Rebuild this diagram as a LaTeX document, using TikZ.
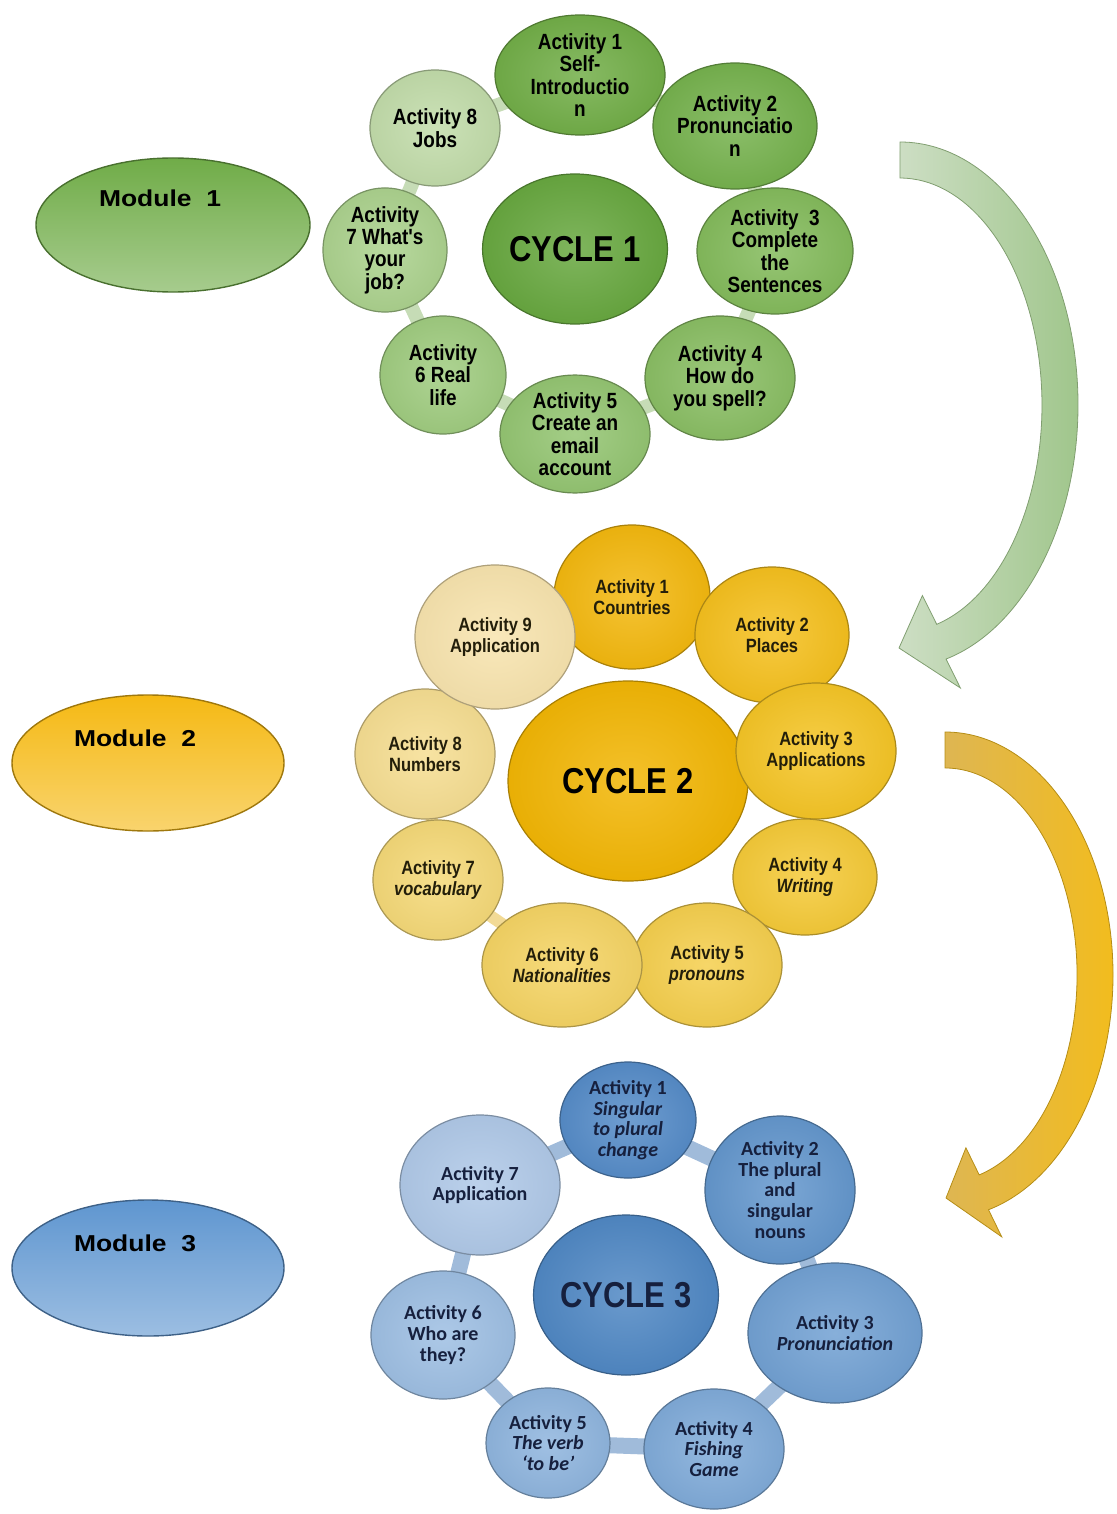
\documentclass[tikz,border=0pt]{standalone}
\usepackage{fontspec}
\setmainfont{Liberation Sans}
\newfontfamily\narrowf[FakeStretch=0.86]{Liberation Sans}
\newfontfamily\widef[FakeStretch=1.15]{Liberation Sans}
\newfontfamily\calf{Carlito}
\usetikzlibrary{shapes.geometric,backgrounds}
% greens
\definecolor{gC}{RGB}{104,168,64}
\definecolor{g1}{RGB}{114,174,72}
\definecolor{g2}{RGB}{118,178,78}
\definecolor{g3}{RGB}{132,187,92}
\definecolor{g4}{RGB}{138,190,100}
\definecolor{g5}{RGB}{148,197,114}
\definecolor{g6}{RGB}{160,204,128}
\definecolor{g7}{RGB}{172,210,142}
\definecolor{g8}{RGB}{194,220,170}
\definecolor{gring}{RGB}{198,220,182}
\definecolor{mod1}{RGB}{112,172,72}
% yellows
\definecolor{yC}{RGB}{242,182,5}
\definecolor{y1}{RGB}{243,184,15}
\definecolor{y2}{RGB}{245,192,30}
\definecolor{y3}{RGB}{245,197,38}
\definecolor{y4}{RGB}{245,202,56}
\definecolor{y5}{RGB}{245,207,78}
\definecolor{y6}{RGB}{245,212,100}
\definecolor{y7}{RGB}{245,217,120}
\definecolor{y8}{RGB}{246,222,146}
\definecolor{y9}{RGB}{248,228,174}
\definecolor{yring}{RGB}{242,218,150}
\definecolor{mod2}{RGB}{245,185,20}
% blues
\definecolor{bC}{RGB}{80,136,196}
\definecolor{b1}{RGB}{86,140,200}
\definecolor{b2}{RGB}{100,151,205}
\definecolor{b3}{RGB}{114,161,211}
\definecolor{b4}{RGB}{128,171,217}
\definecolor{b5}{RGB}{143,181,222}
\definecolor{b6}{RGB}{158,191,227}
\definecolor{b7}{RGB}{176,201,232}
\definecolor{bring}{RGB}{160,187,218}
\definecolor{mod3}{RGB}{95,150,208}
\definecolor{navy}{RGB}{22,32,62}
\definecolor{dk}{RGB}{35,30,10}
% arrows
\definecolor{gaL}{RGB}{205,222,196}
\definecolor{gaR}{RGB}{160,198,140}
\definecolor{yaL}{RGB}{222,182,82}
\definecolor{yaR}{RGB}{242,188,30}
\begin{document}
\begin{tikzpicture}[x=0.5pt,y=-0.5pt,
  act/.style={ellipse, inner sep=0pt, align=center, draw=#1!70!black, line width=0.6pt,
              inner color=#1!85!white, outer color=#1!96!black},
  mod/.style={ellipse, inner sep=0pt, draw=#1!65!black, line width=0.7pt,
              top color=#1, bottom color=#1!62!white},
  ctxt/.style={font=\narrowf\bfseries\fontsize{11}{11.2}\selectfont, text=black},
  ytxt/.style={font=\narrowf\bfseries\fontsize{9.6}{10.2}\selectfont, text=dk},
  btxt/.style={font=\calf\bfseries\fontsize{10}{10.3}\selectfont, text=navy},
  bigtxt/.style={font=\narrowf\bfseries\fontsize{18}{20}\selectfont},
  modtxt/.style={font=\widef\bfseries\fontsize{11.5}{12}\selectfont, text=black},
  ring/.style={line width=#1, line join=round}]
\useasboundingbox (0,0) rectangle (1117,1514);

% ---------------- Modules
\node[mod=mod1, minimum width=137pt, minimum height=67pt] (m1) at (173,225) {};
\node[modtxt] (m1t) at (160,198) {Module\ \ 1};
\node[mod=mod2, minimum width=136pt, minimum height=68pt] (m2) at (148,763) {};
\node[modtxt] (m2t) at (135,738) {Module\ \ 2};
\node[mod=mod3, minimum width=136pt, minimum height=68pt] (m3) at (148,1268) {};
\node[modtxt] (m3t) at (135,1243) {Module\ \ 3};

% ---------------- Cycle 1
\node[act=gC, minimum width=90pt, minimum height=75pt, bigtxt] (c1) at (575,249) {CYCLE 1};
\node[act=g1, minimum width=85pt, minimum height=60pt, ctxt] (c1a1) at (580,75) {Activity 1\\Self-\\Introductio\\n};
\node[act=g2, minimum width=82pt, minimum height=63pt, ctxt] (c1a2) at (735,126) {Activity 2\\Pronunciatio\\n};
\node[act=g3, minimum width=78pt, minimum height=63pt, ctxt] (c1a3) at (775,251) {Activity\ \ 3\\Complete\\the\\Sentences};
\node[act=g4, minimum width=75pt, minimum height=62pt, ctxt] (c1a4) at (720,378) {Activity 4\\How do\\you spell?};
\node[act=g5, minimum width=75pt, minimum height=56pt, ctxt] (c1a5) at (575,434) {Activity 5\\Create an\\email\\account};
\node[act=g6, minimum width=63pt, minimum height=59pt, ctxt] (c1a6) at (443,375) {Activity\\6 Real\\life};
\node[act=g7, minimum width=62pt, minimum height=62pt, ctxt] (c1a7) at (385,250) {Activity\\7 What's\\your\\job?};
\node[act=g8, minimum width=65pt, minimum height=58pt, ctxt] (c1a8) at (435,128) {Activity 8\\Jobs};
\begin{pgfonlayer}{background}
\draw[ring=7pt, gring] (c1a1.center) -- (c1a2.center) -- (c1a3.center) -- (c1a4.center) -- (c1a5.center) -- (c1a6.center) -- (c1a7.center) -- (c1a8.center) -- cycle;
\end{pgfonlayer}

% ---------------- Cycle 2
\node[act=yC, minimum width=120pt, minimum height=100pt, bigtxt] (c2) at (628,781) {CYCLE 2};
\node[act=y1, minimum width=78pt, minimum height=72pt, ytxt] (c2a1) at (632,597) {Activity 1\\Countries};
\node[act=y2, minimum width=77pt, minimum height=68pt, ytxt] (c2a2) at (772,635) {Activity 2\\Places};
\node[act=y3, minimum width=80pt, minimum height=68pt, ytxt] (c2a3) at (816,751) {Activity 3\\Applications};
\node[act=y4, minimum width=72pt, minimum height=58pt, ytxt] (c2a4) at (805,877) {Activity 4\\\textit{Writing}};
\node[act=y5, minimum width=75pt, minimum height=62pt, ytxt] (c2a5) at (707,965) {Activity 5\\\textit{pronouns}};
\node[act=y6, minimum width=80pt, minimum height=62pt, ytxt] (c2a6) at (562,965) {Activity 6\\\textit{Nationalities}};
\node[act=y7, minimum width=65pt, minimum height=60pt, ytxt] (c2a7) at (438,880) {Activity 7\\\textit{vocabulary}};
\node[act=y8, minimum width=70pt, minimum height=65pt, ytxt] (c2a8) at (425,754) {Activity 8\\Numbers};
\node[act=y9, minimum width=80pt, minimum height=72pt, ytxt] (c2a9) at (495,637) {Activity 9\\Application};
\begin{pgfonlayer}{background}
\draw[ring=6pt, yring] (c2a1.center) -- (c2a2.center) -- (c2a3.center) -- (c2a4.center) -- (c2a5.center) -- (c2a6.center) -- (c2a7.center) -- (c2a8.center) -- (c2a9.center) -- cycle;
\end{pgfonlayer}

% ---------------- Cycle 3
\node[act=bC, minimum width=92pt, minimum height=80pt, bigtxt, text=navy] (c3) at (626,1295) {CYCLE 3};
\node[act=b1, minimum width=68pt, minimum height=58pt, btxt] (c3a1) at (628,1120) {Activity 1\\\textit{Singular}\\\textit{to plural}\\\textit{change}};
\node[act=b2, minimum width=75pt, minimum height=74pt, btxt] (c3a2) at (780,1190) {Activity 2\\The plural\\and\\singular\\nouns};
\node[act=b3, minimum width=87pt, minimum height=70pt, btxt] (c3a3) at (835,1333) {Activity 3\\\textit{Pronunciation}};
\node[act=b4, minimum width=70pt, minimum height=60pt, btxt] (c3a4) at (714,1449) {Activity 4\\\textit{Fishing}\\\textit{Game}};
\node[act=b5, minimum width=62pt, minimum height=55pt, btxt] (c3a5) at (548,1443) {Activity 5\\\textit{The verb}\\\textit{‘to be’}};
\node[act=b6, minimum width=72pt, minimum height=64pt, btxt] (c3a6) at (443,1335) {Activity 6\\Who are\\they?};
\node[act=b7, minimum width=80pt, minimum height=70pt, btxt] (c3a7) at (480,1185) {Activity 7\\Application};
\begin{pgfonlayer}{background}
\draw[ring=8pt, bring] (c3a1.center) -- (c3a2.center) -- (c3a3.center) -- (c3a4.center) -- (c3a5.center) -- (c3a6.center) -- (c3a7.center) -- cycle;
\end{pgfonlayer}

% ---------------- Curved arrows
\draw[draw=gaR!80!black, line width=0.4pt, left color=gaL, right color=gaR]
  (900,142) arc[start angle=-90, end angle=75, x radius=178, y radius=263]
  -- (960.4,688) -- (899,648) -- (922.4,595.5) -- (936.7,624.3)
  arc[start angle=75, end angle=-90, x radius=142, y radius=227] -- cycle;
\draw[draw=yaR!75!black, line width=0.4pt, left color=yaL, right color=yaR]
  (945,732) arc[start angle=-90, end angle=75, x radius=168, y radius=243]
  -- (1001.7,1236.8) -- (946,1198) -- (965.9,1147.8) -- (979.2,1174.9)
  arc[start angle=75, end angle=-90, x radius=132, y radius=207] -- cycle;
\end{tikzpicture}
\end{document}
